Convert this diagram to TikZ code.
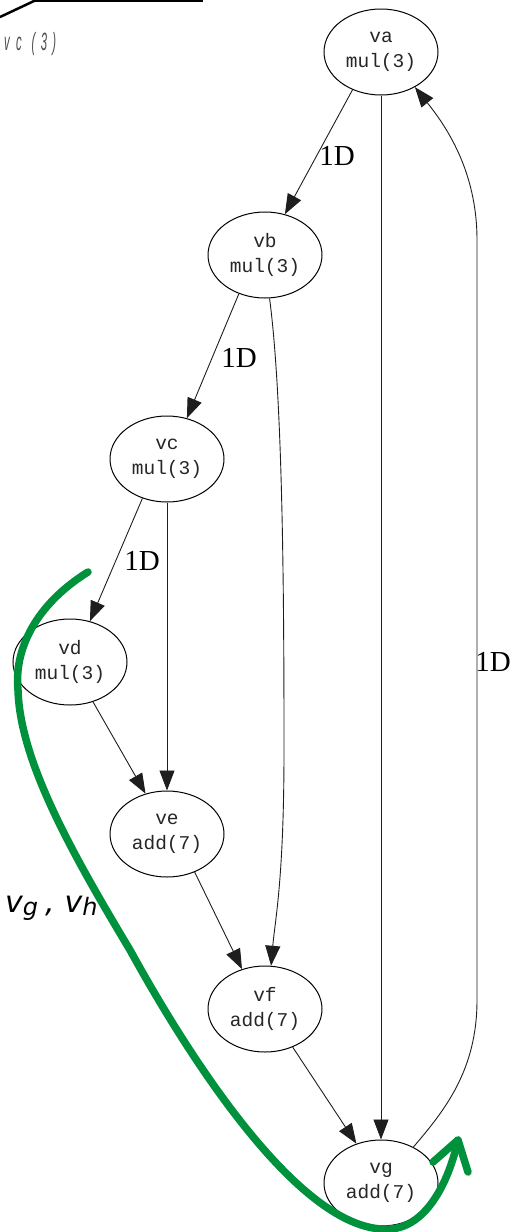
\documentclass[tikz,border=0pt]{standalone}
\usepackage{fontspec}
\usepackage{graphicx}
\setmonofont{Liberation Mono}
\newfontfamily\labfont{Liberation Serif}
\newfontfamily\annfont{DejaVu Sans}
\newfontfamily\condfont{Liberation Sans}
\usetikzlibrary{arrows.meta,shapes.geometric}
\definecolor{vgreen}{RGB}{0,145,60}
\definecolor{edgec}{RGB}{30,30,30}
\begin{document}
\begin{tikzpicture}[x=1pt,y=-1pt,
  vnode/.style={draw, ellipse, line width=1pt, minimum width=114pt, minimum height=86pt, inner sep=0pt, align=center, font=\ttfamily\fontsize{19.5}{25}\selectfont, text=black!85},
  edge/.style={draw=edgec, line width=0.9pt, -{Triangle[length=20pt,width=15pt]}},
  lbl/.style={font=\labfont\fontsize{29}{29}\selectfont, text=black, inner sep=0pt},
  green/.style={draw=vgreen, line width=7.5pt, line cap=round, line join=round}]
\useasboundingbox (0,0) rectangle (522,1232);
% top-left fragment
\draw[line width=2.5pt] (0,17) -- (34,1);
\draw[line width=1.5pt] (34,-8) rectangle (202,1);
\draw[line width=1.5pt] (69,-8) -- (69,1);
\node[anchor=base west, inner sep=0pt, text=black!70] (vc3) at (4,50)
  {\scalebox{0.45}[1]{\condfont\itshape\fontsize{25}{25}\selectfont v\hspace{14pt}c\hspace{22pt}(\hspace{12pt}3\hspace{12pt})}};
% nodes
\node[vnode] (va) at (381,52) {va\\mul(3)};
\node[vnode] (vb) at (265,255) {vb\\mul(3)};
\node[vnode] (vc) at (167,459) {vc\\mul(3)};
\node[vnode] (vd) at (70,662) {vd\\mul(3)};
\node[vnode] (ve) at (167,834) {ve\\add(7)};
\node[vnode] (vf) at (265,1009) {vf\\add(7)};
\node[vnode] (vg) at (381,1183) {vg\\add(7)};
% edges
\draw[edge] (va.233) -- (vb.64);
\draw[edge] (vb.236) -- (vc.64);
\draw[edge] (vc.238) -- (vd.64);
\draw[edge] (vd.300) -- (ve.118);
\draw[edge] (vc.south) -- (ve.north);
\draw[edge] (ve.306) -- (vf.120);
\draw[edge] (vf.306) -- (vg.122);
\draw[edge] (va.south) -- (vg.north);
\draw[edge] (vb.-84) .. controls (283,400) and (284,600) .. (284,750) .. controls (284,880) and (275,920) .. (vf.82);
\draw[edge] (vg.48) .. controls (445,1110) and (477,1070) .. (477,1000) -- (477,240) .. controls (477,170) and (445,125) .. (va.-46);
% labels
\node[lbl] (l1) at (337,156) {1D};
\node[lbl] (l2) at (239,358) {1D};
\node[lbl] (l3) at (142,561) {1D};
\node[lbl] (l4) at (493,662) {1D};
% annotation
\node[anchor=base west, inner sep=0pt, font=\annfont\itshape\fontsize{30}{30}\selectfont] (vgvh) at (5,912)
  {v\raisebox{-3pt}{\fontsize{24}{24}\selectfont g}\hspace{7pt},\hspace{10pt}v\raisebox{-3pt}{\fontsize{24}{24}\selectfont h}};
\coordinate (gtip) at (458,1140);
\draw[green] (88,572) .. controls (35,605) and (14,650) .. (18,690)
  .. controls (20,760) and (70,850) .. (130,950)
  .. controls (185,1050) and (300,1235) .. (390,1229)
  .. controls (425,1227) and (448,1185) .. (gtip);
\draw[green] (433,1162) -- (gtip) -- (468,1172);
\end{tikzpicture}
\end{document}
